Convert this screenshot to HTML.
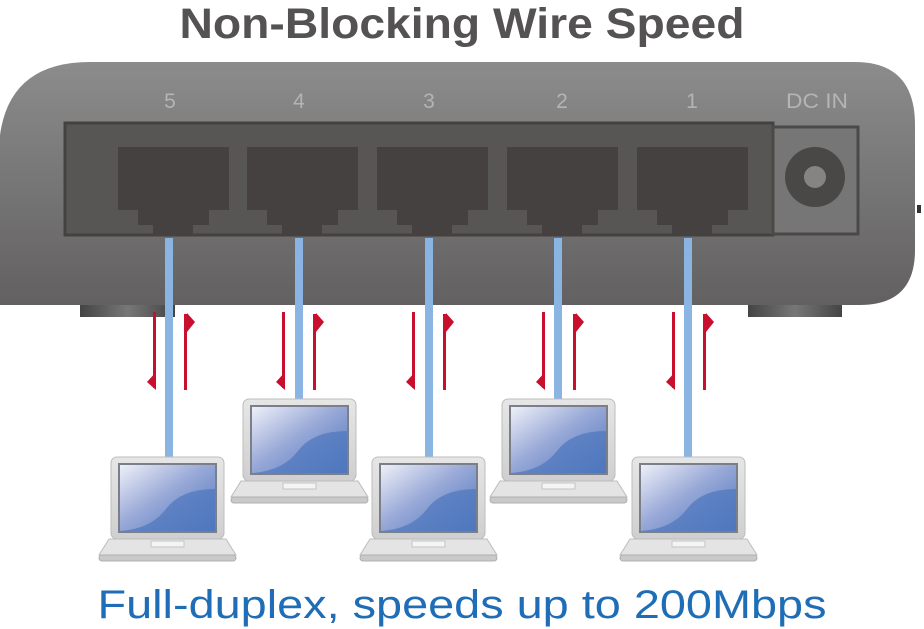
<!DOCTYPE html>
<html><head><meta charset="utf-8"><style>html,body{margin:0;padding:0;background:#fff}svg{display:block}</style></head>
<body>
<svg width="924" height="629" viewBox="0 0 924 629" xmlns="http://www.w3.org/2000/svg">
<defs>
<linearGradient id="body" x1="0" y1="0" x2="0" y2="1">
<stop offset="0" stop-color="#8c8c8c"/><stop offset="1" stop-color="#626060"/></linearGradient>
<linearGradient id="scr" x1="0" y1="0" x2="1" y2="1">
<stop offset="0" stop-color="#eef0f8"/><stop offset="0.45" stop-color="#9aaad8"/><stop offset="1" stop-color="#4a74bc"/></linearGradient>
<linearGradient id="foot" x1="0" y1="0" x2="1" y2="0">
<stop offset="0" stop-color="#444"/><stop offset="0.5" stop-color="#777"/><stop offset="1" stop-color="#444"/></linearGradient>
<linearGradient id="lid" x1="0" y1="0" x2="0" y2="1">
<stop offset="0" stop-color="#e6e6e6"/><stop offset="1" stop-color="#cfcfcf"/></linearGradient>
<g id="laptop">
<rect x="0" y="0" width="113" height="82" rx="6" fill="url(#lid)" stroke="#bdbdbd"/>
<rect x="7" y="6" width="99" height="70" fill="#7a7f8a"/>
<rect x="9" y="8" width="95" height="66" fill="url(#scr)"/>
<path d="M9 74 Q40 72 55 52 Q70 32 104 32 L104 74 Z" fill="#5078be" opacity="0.75"/>
<path d="M-2 82 L115 82 L125 98 L-12 98 Z" fill="#e4e4e4" stroke="#bcbcbc"/>
<rect x="40" y="84" width="33" height="6" fill="#f4f4f4" stroke="#c4c4c4"/>
<rect x="-12" y="98" width="137" height="6" rx="3" fill="#c9c9c9" stroke="#b0b0b0"/>
</g>
<g id="port">
<path d="M-55 0 H56 V63 H36 V78 H20 V88 H-20 V78 H-35 V63 H-55 Z" fill="#444140"/>
</g>
<g id="arr">
<rect x="-16" y="0" width="3" height="76" fill="#c8102e"/>
<path d="M-13 60 L-13 78 L-22 70 Z" fill="#c8102e"/>
<rect x="15" y="2" width="3" height="76" fill="#c8102e"/>
<path d="M18 1 L18 20 L26 10 Z" fill="#c8102e"/>
</g>
</defs>

<text x="462" y="38" text-anchor="middle" font-family="Liberation Sans, sans-serif" font-weight="bold" font-size="43" fill="#545252" textLength="565" lengthAdjust="spacingAndGlyphs">Non-Blocking Wire Speed</text>

<rect x="80" y="296" width="95" height="21" fill="url(#foot)"/>
<rect x="748" y="296" width="94" height="21" fill="url(#foot)"/>
<path d="M0 135 Q10 62 90 62 L855 62 Q915 62 915 125 L915 250 Q915 305 860 305 L0 305 Z" fill="url(#body)"/>
<rect x="917" y="205" width="4" height="8" fill="#333"/>
<rect x="65" y="123" width="708" height="112" fill="#575655" stroke="#434241" stroke-width="3"/>
<rect x="773" y="127" width="85" height="107" fill="#777676" stroke="#4a4948" stroke-width="3"/>
<circle cx="815" cy="177" r="30" fill="#4a4846"/>
<circle cx="815" cy="177" r="11" fill="#858483"/>

<g font-family="Liberation Sans, sans-serif" font-size="21" fill="#b4b4b4" text-anchor="middle">
<text x="170" y="108">5</text><text x="299" y="108">4</text><text x="429" y="108">3</text><text x="562" y="108">2</text><text x="692" y="108">1</text>
<text x="817" y="108" textLength="62" lengthAdjust="spacingAndGlyphs">DC IN</text>
</g>

<use href="#port" x="173" y="147"/>
<use href="#port" x="302" y="147"/>
<use href="#port" x="432" y="147"/>
<use href="#port" x="562" y="147"/>
<use href="#port" x="692" y="147"/>

<g fill="#8ab4e2">
<rect x="165" y="238" width="8" height="222"/>
<rect x="295" y="238" width="8" height="164"/>
<rect x="425" y="238" width="8" height="222"/>
<rect x="554" y="238" width="8" height="164"/>
<rect x="684" y="238" width="8" height="222"/>
</g>

<use href="#arr" x="169" y="312"/>
<use href="#arr" x="298" y="312"/>
<use href="#arr" x="428" y="312"/>
<use href="#arr" x="558" y="312"/>
<use href="#arr" x="688" y="312"/>

<use href="#laptop" x="111" y="457"/>
<use href="#laptop" x="243" y="399"/>
<use href="#laptop" x="372" y="457"/>
<use href="#laptop" x="502" y="399"/>
<use href="#laptop" x="632" y="457"/>

<text x="462" y="618" text-anchor="middle" font-family="Liberation Sans, sans-serif" font-size="40" fill="#1e6db6" textLength="729" lengthAdjust="spacingAndGlyphs">Full-duplex, speeds up to 200Mbps</text>
</svg>
</body></html>
